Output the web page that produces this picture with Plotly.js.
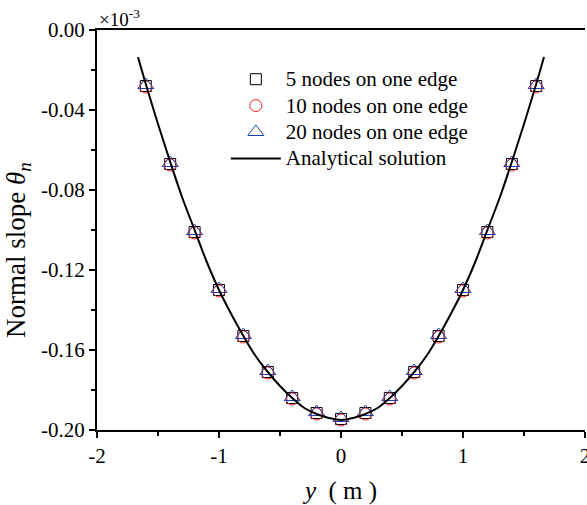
<!DOCTYPE html>
<html>
<head>
<meta charset="utf-8">
<script src="https://cdn.plot.ly/plotly-3.0.1.min.js"></script>
<style>html,body{margin:0;padding:0;background:#fff;}#chart{width:587px;height:505px;}</style>
</head>
<body>
<div id="chart"></div>
<script>
// Node positions along the edge (m)
const nodeY = [-1.6, -1.4, -1.2, -1.0, -0.8, -0.6, -0.4, -0.2, 0.0, 0.2, 0.4, 0.6, 0.8, 1.0, 1.2, 1.4, 1.6];
// Normal slope values (×10^-3)
const slope5  = [-0.028, -0.067, -0.101, -0.130, -0.153, -0.171, -0.184, -0.1915, -0.1945, -0.1915, -0.184, -0.171, -0.153, -0.130, -0.101, -0.067, -0.028];
const slope10 = [-0.0285, -0.0675, -0.1015, -0.1305, -0.1535, -0.1715, -0.1845, -0.192, -0.195, -0.192, -0.1845, -0.1715, -0.1535, -0.1305, -0.1015, -0.0675, -0.0285];
const slope20 = [-0.0275, -0.0665, -0.1005, -0.1295, -0.1525, -0.1705, -0.1835, -0.191, -0.194, -0.191, -0.1835, -0.1705, -0.1525, -0.1295, -0.1005, -0.0665, -0.0275];
// Analytical curve
const anaY = [-1.664, -1.6, -1.5, -1.4, -1.3, -1.2, -1.1, -1.0, -0.9, -0.8, -0.7, -0.6, -0.5, -0.4, -0.3, -0.2, -0.1, 0.0, 0.1, 0.2, 0.3, 0.4, 0.5, 0.6, 0.7, 0.8, 0.9, 1.0, 1.1, 1.2, 1.3, 1.4, 1.5, 1.6, 1.664];
const anaSlope = [-0.0135, -0.027, -0.047, -0.066, -0.084, -0.100, -0.116, -0.130, -0.142, -0.153, -0.163, -0.171, -0.178, -0.184, -0.189, -0.192, -0.194, -0.195, -0.194, -0.192, -0.189, -0.184, -0.178, -0.171, -0.163, -0.153, -0.142, -0.130, -0.116, -0.100, -0.084, -0.066, -0.047, -0.027, -0.0135];
const seriesNames = ["5 nodes on one edge", "10 nodes on one edge", "20 nodes on one edge", "Analytical solution"];
const xTickVals = [-2, -1, 0, 1, 2];
const xTickText = ["-2", "-1", "0", "1", "2"];
const yTickVals = [0, -0.04, -0.08, -0.12, -0.16, -0.20];
const yTickText = ["0.00", "-0.04", "-0.08", "-0.12", "-0.16", "-0.20"];

const FONT = "'Liberation Serif', 'Times New Roman', serif";
const big = s => '<span style="font-size:21px">' + s + '</span>';

const traces = [
  {x: nodeY, y: slope5, mode: "markers", type: "scatter", name: big(seriesNames[0]),
   marker: {symbol: "square-open", size: 11, color: "#000", line: {width: 1}}},
  {x: nodeY, y: slope10, mode: "markers", type: "scatter", name: big(seriesNames[1]),
   marker: {symbol: "circle-open", size: 12, color: "#ff2020", line: {width: 1}}},
  {x: nodeY, y: slope20, mode: "markers", type: "scatter", name: big(seriesNames[2]),
   marker: {symbol: "triangle-up-open", size: 14, color: "#2040b0", line: {width: 1}}},
  {x: anaY, y: anaSlope, mode: "lines", type: "scatter", name: big(seriesNames[3]),
   line: {color: "#000", width: 2, shape: "spline"}}
];

const layout = {
  width: 587, height: 505,
  margin: {l: 97, r: 2, t: 30, b: 75},
  paper_bgcolor: "#fff", plot_bgcolor: "#fff",
  font: {family: FONT, size: 21, color: "#000"},
  showlegend: true,
  legend: {x: 0.264, y: 0.9225, xanchor: "left", yanchor: "top", itemwidth: 50,
           bgcolor: "rgba(0,0,0,0)", borderwidth: 0,
           font: {family: FONT, size: 18, color: "#000"}, tracegroupgap: 0},
  xaxis: {
    range: [-2, 2], showgrid: false, zeroline: false,
    showline: true, linecolor: "#000", linewidth: 2, mirror: true,
    ticks: "outside", ticklen: 6, tickwidth: 2, tickcolor: "#000",
    tickvals: xTickVals, ticktext: xTickText, ticklabeloverflow: "allow",
    minor: {dtick: 0.5, tick0: -2, ticks: "outside", ticklen: 4, tickwidth: 2, tickcolor: "#000"},
    tickfont: {family: FONT, size: 21},
    title: {text: "<i>y</i>  ( m )", font: {family: FONT, size: 25}, standoff: 16}
  },
  yaxis: {
    range: [-0.2, 0], showgrid: false, zeroline: false,
    showline: true, linecolor: "#000", linewidth: 2,
    ticks: "outside", ticklen: 6, tickwidth: 2, tickcolor: "#000",
    tickvals: yTickVals, ticktext: yTickText,
    minor: {dtick: 0.02, tick0: 0, ticks: "outside", ticklen: 4, tickwidth: 2, tickcolor: "#000"},
    tickfont: {family: FONT, size: 21}
  },
  annotations: [
    {xref: "paper", yref: "paper", x: 0, y: 1, xanchor: "left", yanchor: "bottom",
     text: "×10<sup>-3</sup>", showarrow: false, font: {family: FONT, size: 19}, yshift: -2},
    {xref: "paper", yref: "paper", x: -0.162, y: 0.45, xanchor: "center", yanchor: "middle",
     textangle: -90, text: "Normal slope <i>θ<sub>n</sub></i>", showarrow: false,
     font: {family: FONT, size: 27}}
  ]
};

Plotly.newPlot("chart", traces, layout, {displayModeBar: false, staticPlot: true});
</script>
</body>
</html>
